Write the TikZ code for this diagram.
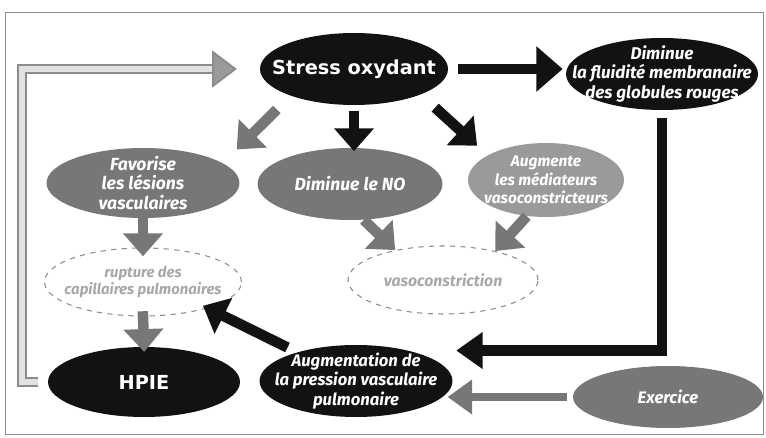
\documentclass[tikz,border=0pt]{standalone}
\usepackage{fontspec}
\setmainfont{Fira Sans}
\newfontfamily\heavyfont{DejaVu Sans}
\usepackage{tikz}
\usetikzlibrary{positioning, arrows.meta, shapes.geometric, calc}
\definecolor{dInk}{HTML}{121212}
\definecolor{dGrey}{HTML}{777777}
\definecolor{dSoft}{HTML}{9A9A9A}
\definecolor{dLine}{HTML}{8C8C8C}
\definecolor{dPale}{HTML}{E2E2E2}
\definecolor{dFaint}{HTML}{A8A8A8}
\tikzset{
  blob/.style={ellipse, inner sep=0pt},
  darkblob/.style={blob, fill=dInk},
  greyblob/.style={blob, fill=dGrey},
  softblob/.style={blob, fill=dSoft},
  ghostblob/.style={blob, draw=dLine, dashed, line width=0.6pt},
  wtxt/.style={text=white, align=center, font=\fontsize{10}{11}\selectfont\bfseries\itshape},
  htxt/.style={text=white, font=\heavyfont\fontsize{11}{13}\selectfont\bfseries},
  gtxt/.style={text=dFaint, align=center, font=\fontsize{8.5}{10}\selectfont\bfseries\itshape},
  blkarrow/.style={draw=dInk, line width=6pt, -{Triangle[length=13pt,width=22pt]}},
  greyarrow/.style={draw=dGrey, line width=6pt, -{Triangle[length=13pt,width=22pt]}},
  hollowband/.style={draw=dLine, line width=1.1pt, double=dPale, double distance=3.6pt,
    line join=miter, -{Triangle[length=14pt,width=21pt,fill=dSoft]}}
}
\begin{document}
\begin{tikzpicture}[x=0.02cm, y=-0.02cm]
  \useasboundingbox (0,0) rectangle (766,438);
  \draw[dLine, line width=0.5pt] (5,12) rectangle (763,434);

  \node[darkblob, minimum width=3.76cm, minimum height=1.44cm] (stress) at (354,69) {};
  \node[darkblob, minimum width=3.84cm, minimum height=1.44cm] (fluid) at (662,74) {};
  \node[greyblob, minimum width=3.86cm, minimum height=1.40cm] (fav) at (143,183) {};
  \node[greyblob, minimum width=3.70cm, minimum height=1.44cm] (no) at (350,184) {};
  \node[softblob, minimum width=3.12cm, minimum height=1.48cm] (aug) at (546,180) {};
  \node[ghostblob, minimum width=3.94cm, minimum height=1.36cm] (rup) at (143,282) {};
  \node[ghostblob, minimum width=3.80cm, minimum height=1.36cm] (vaso) at (443,280) {};
  \node[darkblob, minimum width=3.84cm, minimum height=1.40cm] (hpie) at (144,382) {};
  \node[darkblob, minimum width=3.86cm, minimum height=1.44cm] (press) at (356,381) {};
  \node[greyblob, minimum width=3.80cm, minimum height=1.24cm] (exer) at (668,397) {};

  \node[htxt] (stress-t) at (stress) {Stress oxydant};
  \node[wtxt, font=\fontsize{9.7}{11}\selectfont\bfseries\itshape] (fluid-t) at (fluid) {Diminue\\la fluidité membranaire\\des globules rouges};
  \node[wtxt] (fav-t) at (fav) {Favorise\\les lésions\\vasculaires};
  \node[wtxt] (no-t) at (no) {Diminue le NO};
  \node[wtxt, font=\fontsize{8.8}{10.5}\selectfont\bfseries\itshape] (aug-t) at (aug) {Augmente\\les médiateurs\\vasoconstricteurs};
  \node[gtxt] (rup-t) at (rup) {rupture des\\capillaires pulmonaires};
  \node[gtxt, font=\fontsize{9}{10}\selectfont\bfseries\itshape] (vaso-t) at (vaso) {vasoconstriction};
  \node[htxt] (hpie-t) at (hpie) {HPIE};
  \node[wtxt, font=\fontsize{9.5}{11}\selectfont\bfseries\itshape] (press-t) at (press) {Augmentation de\\la pression vasculaire\\pulmonaire};
  \node[wtxt, font=\fontsize{9.5}{11}\selectfont\bfseries\itshape] (exer-t) at (exer) {Exercice};

  \draw[blkarrow, line width=5.7pt, -{Triangle[length=15pt,width=25pt]}, shorten <=5.7pt, shorten >=1.7pt]
    (stress.east) -- (stress.east -| fluid.west);
  \draw[blkarrow, shorten <=3pt, shorten >=-2pt] (stress.south) -- (stress.south |- no.north);
  \draw[blkarrow, shorten <=11pt, shorten >=8pt] (stress.-21) -- (aug.157);
  \draw[greyarrow, shorten <=11pt, shorten >=11pt] (stress.-157) -- (fav.14);
  \draw[greyarrow, shorten <=-2pt, shorten >=-5pt] (fav.south) -- (rup.north);
  \draw[greyarrow, shorten <=-3pt, shorten >=-3pt] (rup.south) -- (hpie.north);
  \draw[greyarrow] (no.-69) -- (vaso.148);
  \draw[greyarrow] (aug.-118) -- (vaso.29);
  \draw[blkarrow, shorten <=6pt, shorten >=-3pt] (press.154) -- (rup.-22);
  \draw[blkarrow, line join=miter, -{Triangle[length=15pt,width=20pt]}, shorten <=4.5pt, shorten >=27pt]
    (fluid.south) |- (press.30);
  \draw[greyarrow, line width=4.5pt, -{Triangle[length=14pt,width=19pt]}, shorten <=3pt, shorten >=-3pt]
    (exer.west) -- (exer.west -| press.east);
  \draw[hollowband, shorten <=5.5pt, shorten >=13pt] (hpie.west) -- ++(-26,0) |- (stress.west);
\end{tikzpicture}
\end{document}
